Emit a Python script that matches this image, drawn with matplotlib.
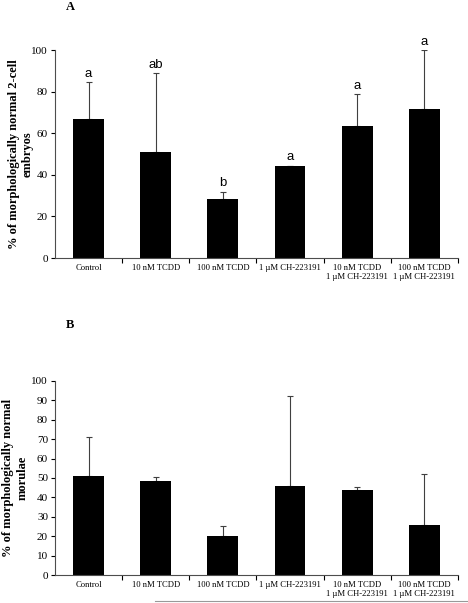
import matplotlib
matplotlib.use("Agg")
import matplotlib.pyplot as plt
from matplotlib.lines import Line2D
import numpy as np

# group labels shared by both panels
groups = ["Control", "10 nM TCDD", "100 nM TCDD", "1 \u00b5M CH-223191",
          "10 nM TCDD\n1 \u00b5M CH-223191", "100 nM TCDD\n1 \u00b5M CH-223191"]

# panel A: 2-cell embryos
means_a = [67, 51, 28.5, 44.5, 63.5, 71.5]
err_a = [17.5, 38, 3.5, 0, 15.5, 28.5]
letters_a = ["a", "ab", "b", "a", "a", "a"]

# panel B: morulae
means_b = [51, 48.5, 20, 46, 44, 26]
err_b = [20, 1.8, 5.5, 46, 1.5, 26]

plt.rcParams['font.family'] = ['Liberation Serif', 'DejaVu Serif']

fig = plt.figure(figsize=(4.68, 6.03), dpi=100)


def draw_panel(ax, means, errs, ylabel, yticks, label_x, letters=None):
    x = np.arange(len(groups))
    ax.bar(x, means, width=0.46, color="black", zorder=2)
    ax.errorbar(x, means, yerr=[np.zeros(len(errs)), errs], fmt="none",
                ecolor="0.25", elinewidth=0.8, capsize=2.5, capthick=0.8, zorder=1)
    ax.set_xlim(-0.5, len(groups) - 0.5)
    ax.set_ylim(0, 100)
    ax.set_yticks(yticks)
    ax.tick_params(axis="y", labelsize=8, length=3, width=0.8, pad=2)
    ax.set_xticks(x)
    ax.set_xticklabels(groups, fontsize=6.2)
    ax.tick_params(axis="x", length=0, pad=4)
    ax.set_xticks(np.arange(len(groups)) + 0.5, minor=True)
    ax.tick_params(axis="x", which="minor", length=3.5, width=0.8)
    for s in ["top", "right"]:
        ax.spines[s].set_visible(False)
    for s in ["left", "bottom"]:
        ax.spines[s].set_linewidth(0.8)
        ax.spines[s].set_color("0.3")
    ax.set_ylabel(ylabel, fontsize=9, fontweight="bold", linespacing=1.25,
                  va="center", ha="center")
    ax.yaxis.set_label_coords(label_x, 0.5)
    if letters:
        for xi, m, e, t in zip(x, means, errs, letters):
            ax.text(xi, m + e + 1, t, ha="center", va="bottom", fontsize=9.5,
                    family=["Liberation Sans", "DejaVu Sans"])


ax_a = fig.add_axes([0.1175, 0.572, 0.861, 0.345])
draw_panel(ax_a, means_a, err_a, "% of morphologically normal 2-cell\nembryos",
           np.arange(0, 101, 20), -0.085, letters_a)

ax_b = fig.add_axes([0.1175, 0.0464, 0.861, 0.3218])
draw_panel(ax_b, means_b, err_b, "% of morphologically normal\nmorulae",
           np.arange(0, 101, 10), -0.098)

fig.text(0.15, 0.988, "A", fontsize=9, fontweight="bold", va="center", ha="center")
fig.text(0.15, 0.461, "B", fontsize=9, fontweight="bold", va="center", ha="center")

fig.add_artist(Line2D([0.331, 1.0], [0.0025, 0.0025], color="0.6", lw=0.8))

fig.savefig("out.png", dpi=100)
